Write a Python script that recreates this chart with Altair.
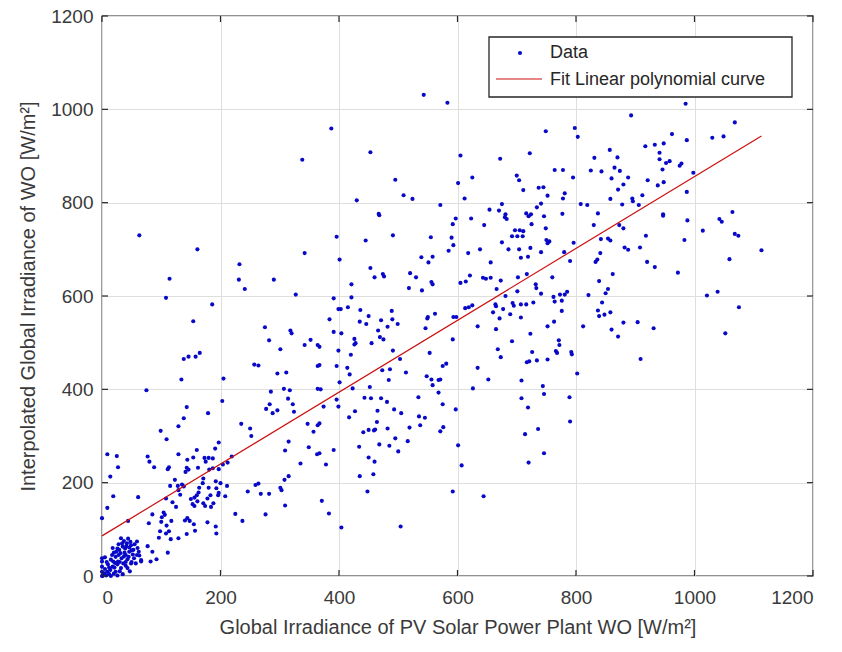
import altair as alt
import pandas as pd

# Axis tick positions (W/m²)
X_TICKS = [0, 200, 400, 600, 800, 1000, 1200]
Y_TICKS = [0, 200, 400, 600, 800, 1000, 1200]

# Linear polynomial fit: WO = slope * PV + intercept
FIT_SLOPE = 0.770
FIT_INTERCEPT = 86.0

# Measured pairs (PV plant irradiance, interpolated WO irradiance), grouped by range
night_cluster = [
    (32, 81), (37, 75), (42, 70), (35, 63), (26, 59), (49, 66), (59, 74), (53, 56),
    (46, 52), (40, 45), (31, 49), (23, 41), (33, 38), (43, 36), (54, 38), (49, 27),
    (36, 27), (26, 25), (18, 20), (14, 13), (23, 9), (32, 17), (12, 4), (7, 1),
    (1, 0), (0, 0), (0, 9), (0, 31), (0, 20), (0, 38), (66, 34), (59, 45), (19, 31),
    (27, 31), (15, 0), (26, 1), (35, 4), (43, 17), (29, 56), (39, 59), (46, 61),
    (52, 46), (21, 18), (9, 9), (4, 6), (40, 22), (57, 27), (63, 44), (20, 50),
    (28, 68), (44, 80), (10, 25), (5, 15), (15, 35), (38, 50), (50, 30), (30, 10),
    (60, 60), (17, 45), (24, 52), (34, 70), (41, 64), (48, 73), (55, 68), (37, 42),
    (45, 41), (30, 30), (22, 28), (12, 18), (8, 30), (28, 45), (50, 55), (62, 52),
    (18, 60), (40, 30), (47, 10), (20, 5), (5, 40),
]

low_range = [
    (138, 338), (129, 321), (99, 311), (109, 293), (235, 326), (250, 316), (252, 300),
    (197, 286), (191, 273), (129, 261), (160, 270), (144, 249), (154, 254), (162, 232),
    (173, 253), (180, 253), (187, 252), (175, 245), (219, 256), (212, 243), (204, 239),
    (197, 229), (187, 231), (181, 228), (77, 256), (80, 245), (88, 233), (111, 229),
    (113, 233), (141, 223), (143, 232), (146, 228), (9, 261), (25, 257), (27, 233),
    (14, 213), (128, 193), (135, 196), (138, 192), (115, 193), (123, 206), (171, 209),
    (170, 199), (164, 189), (163, 179), (160, 173), (156, 168), (150, 165), (161, 160),
    (153, 154), (156, 150), (180, 189), (183, 173), (178, 166), (171, 156), (174, 150),
    (184, 148), (196, 173), (197, 178), (193, 188), (188, 156), (211, 193), (208, 171),
    (192, 203), (200, 199), (19, 171), (9, 146), (61, 169), (0, 124), (125, 148),
    (104, 136), (85, 132), (79, 113), (101, 126), (106, 131), (44, 118), (100, 116),
    (117, 118), (109, 108), (113, 96), (98, 96), (108, 91), (96, 82), (116, 79),
    (129, 81), (143, 90), (157, 97), (178, 115), (192, 106), (193, 91), (144, 124),
    (140, 119), (148, 118), (155, 111), (129, 184), (132, 174), (119, 158), (108, 166),
    (225, 133), (237, 118), (276, 132), (268, 176), (282, 176), (259, 195), (264, 198),
    (246, 181), (301, 189), (303, 184), (309, 151), (315, 214), (308, 206), (349, 276),
    (363, 261), (335, 241), (315, 288), (309, 269), (347, 326), (357, 309), (364, 323),
    (111, 50), (77, 64), (85, 52), (92, 36), (82, 31), (66, 31),
    (63, 730), (161, 700), (342, 692), (232, 668), (114, 637), (231, 635), (290, 635),
    (241, 615), (108, 596), (327, 603), (186, 582), (154, 546), (275, 533), (318, 526),
    (320, 520), (282, 505), (301, 486), (342, 495), (352, 506), (364, 495), (138, 465),
    (146, 470), (158, 470), (165, 478), (257, 453), (264, 451), (296, 434), (311, 436),
    (364, 450), (134, 421), (205, 423), (75, 398), (285, 395), (307, 401), (317, 398),
    (364, 401), (203, 375), (314, 380), (322, 368), (283, 368), (277, 358), (296, 355),
    (288, 349), (143, 362), (179, 349), (324, 352), (338, 892),
]

mid_range = [
    (468, 773), (597, 766), (592, 754), (623, 766), (645, 752), (680, 769), (683, 765),
    (720, 771), (725, 754), (396, 727), (445, 719), (491, 730), (555, 726), (590, 725),
    (593, 709), (585, 697), (675, 715), (697, 741), (705, 741), (711, 739), (692, 728),
    (701, 728), (710, 728), (638, 700), (686, 700), (704, 700), (723, 703), (618, 692),
    (539, 683), (551, 672), (558, 684), (401, 678), (656, 672), (707, 682), (719, 684),
    (453, 660), (460, 640), (474, 647), (476, 642), (520, 649), (530, 640), (518, 617),
    (540, 612), (556, 630), (558, 625), (421, 625), (605, 628), (614, 631), (621, 644),
    (643, 639), (648, 637), (656, 639), (673, 633), (666, 615), (702, 640), (717, 647),
    (732, 625), (733, 617), (701, 610), (681, 600), (391, 595), (421, 597), (399, 572),
    (403, 572), (415, 576), (436, 570), (489, 568), (613, 574), (619, 576), (625, 580),
    (664, 582), (665, 578), (693, 585), (695, 579), (707, 582), (716, 582), (728, 586),
    (660, 565), (677, 572), (689, 561), (707, 554), (450, 557), (446, 540), (435, 545),
    (471, 548), (482, 534), (490, 550), (499, 540), (562, 562), (549, 552), (550, 555),
    (593, 555), (598, 555), (546, 531), (634, 535), (671, 552), (665, 529), (384, 550),
    (391, 523), (404, 520), (466, 526), (469, 512), (475, 507), (426, 508), (428, 499),
    (426, 496), (455, 499), (723, 519), (692, 503), (592, 507), (399, 483), (420, 474),
    (491, 483), (503, 465), (553, 478), (668, 486), (673, 469), (726, 480), (721, 460),
    (717, 458), (734, 462), (396, 450), (414, 446), (418, 432), (473, 441), (486, 443),
    (513, 436), (575, 450), (581, 455), (634, 446), (548, 428), (556, 421), (568, 420),
    (571, 421), (484, 420), (652, 421), (708, 419), (401, 415), (369, 400), (452, 405),
    (423, 402), (558, 409), (568, 393), (626, 402), (443, 382), (454, 381), (471, 381),
    (481, 373), (493, 357), (505, 349), (534, 383), (465, 354), (427, 353), (575, 368),
    (597, 357), (396, 378), (399, 363), (374, 363), (708, 381), (719, 361), (367, 491),
    (367, 452),
    (417, 340), (464, 330), (441, 308), (450, 313), (459, 312), (461, 314), (482, 316),
    (495, 295), (485, 279), (500, 267), (468, 282), (519, 318), (535, 342), (537, 323),
    (545, 339), (516, 289), (571, 310), (576, 319), (434, 277), (450, 254), (460, 245),
    (435, 214), (458, 218), (448, 181), (391, 270), (378, 239), (371, 161), (383, 134),
    (404, 104), (504, 106), (601, 280), (607, 237), (592, 181), (644, 171), (714, 304),
    (720, 243), (736, 315), (367, 327), (367, 263),
    (543, 1031), (583, 1014), (387, 959), (453, 908), (605, 901), (672, 894), (722, 906),
    (495, 849), (601, 842), (625, 854), (700, 858), (704, 848), (711, 827), (737, 832),
    (509, 816), (524, 808), (430, 805), (612, 809), (571, 795), (675, 797), (654, 785),
    (670, 783), (467, 776), (681, 775), (716, 777), (724, 775), (734, 790),
]

high_range = [
    (985, 1012), (893, 987), (1068, 972), (749, 953), (798, 960), (803, 941), (962, 947),
    (987, 934), (1030, 939), (1049, 942), (917, 921), (933, 924), (948, 927), (857, 913),
    (941, 907), (831, 896), (870, 897), (941, 893), (952, 885), (958, 889), (975, 879),
    (978, 884), (764, 870), (778, 870), (825, 869), (843, 867), (865, 875), (874, 868),
    (946, 871), (998, 864), (795, 854), (860, 852), (888, 854), (921, 848), (948, 844),
    (938, 837), (745, 833), (880, 839), (871, 828), (987, 823), (752, 815), (781, 820),
    (778, 809), (858, 808), (895, 809), (896, 803), (912, 816), (808, 797), (819, 795),
    (878, 796), (906, 795), (741, 798), (837, 777), (777, 776), (947, 775), (1064, 780),
    (1113, 698),
    (746, 771), (988, 762), (1042, 765), (1046, 759), (947, 772), (749, 745), (830, 752),
    (880, 745), (873, 752), (1014, 740), (1068, 733), (1074, 729), (750, 720), (755, 717),
    (752, 713), (741, 694), (796, 714), (780, 694), (790, 675), (842, 722), (854, 723),
    (858, 719), (841, 692), (836, 678), (833, 673), (918, 729), (882, 704), (888, 699),
    (908, 704), (983, 720), (920, 673), (933, 662), (972, 650), (1059, 679), (760, 640),
    (862, 647), (839, 632), (854, 615), (850, 606), (741, 605), (762, 598), (764, 588),
    (773, 603), (776, 590), (781, 603), (785, 609), (821, 602), (1021, 601), (1039, 609),
    (1075, 576), (844, 586), (837, 569), (839, 557), (848, 560), (858, 565), (776, 568),
    (763, 545), (752, 535), (812, 535), (880, 543), (904, 544), (931, 531), (860, 528),
    (871, 513), (1052, 520), (771, 505), (772, 495), (766, 482), (768, 478), (792, 480),
    (793, 475), (752, 464), (909, 465), (802, 434), (744, 407), (746, 390), (789, 383),
    (790, 331), (746, 263),
]

X_TITLE = "Global Irradiance of PV Solar Power Plant WO [W/m²]"
Y_TITLE = "Interpolated Global Irradiance of WO [W/m²]"
LEGEND_LABELS = ["Data", "Fit Linear polynomial curve"]

FONT = "Liberation Sans"
INK = "#262626"
TEXT = "#3a3a3a"
DOT_BLUE = "#0808c8"
FIT_RED = "#cc1010"

W, H = 711, 560

pairs = night_cluster + low_range + mid_range + high_range
points = pd.DataFrame(pairs, columns=["pv", "wo"])

x_lo, x_hi = points["pv"].min(), points["pv"].max()
fit = pd.DataFrame({"pv": [x_lo, x_hi]})
fit["wo"] = FIT_SLOPE * fit["pv"] + FIT_INTERCEPT

x_scale = alt.Scale(domain=[0, 1200], nice=False, zero=False)
y_scale = alt.Scale(domain=[0, 1200], nice=False, zero=False)

x_axis = alt.Axis(
    values=X_TICKS, format="d", title=X_TITLE, grid=True, ticks=False, domain=False,
    labelFontSize=19, labelColor=TEXT, labelFont=FONT, labelPadding=12,
    titleFontSize=20, titleColor=TEXT, titleFont=FONT, titleFontWeight="normal",
    titlePadding=10,
)
y_axis = alt.Axis(
    values=Y_TICKS, format="d", title=Y_TITLE, grid=True, ticks=False, domain=False,
    labelFontSize=19, labelColor=TEXT, labelFont=FONT, labelPadding=9,
    titleFontSize=20, titleColor=TEXT, titleFont=FONT, titleFontWeight="normal",
    titlePadding=12,
)

scatter = alt.Chart(points).mark_circle(size=17, color=DOT_BLUE, opacity=1).encode(
    x=alt.X("pv:Q", scale=x_scale, axis=x_axis),
    y=alt.Y("wo:Q", scale=y_scale, axis=y_axis),
)

fit_line = alt.Chart(fit).mark_line(color=FIT_RED, strokeWidth=1.2).encode(
    x=alt.X("pv:Q", scale=x_scale),
    y=alt.Y("wo:Q", scale=y_scale),
)

# Inward tick marks on all four sides of the box
xt = pd.DataFrame({"pv": X_TICKS})
yt = pd.DataFrame({"wo": Y_TICKS})
TL = 6
tick_layers = [
    alt.Chart(xt).mark_rule(color=INK, strokeWidth=1.2).encode(
        x=alt.X("pv:Q", scale=x_scale), y=alt.value(H), y2=alt.value(H - TL)),
    alt.Chart(xt).mark_rule(color=INK, strokeWidth=1.2).encode(
        x=alt.X("pv:Q", scale=x_scale), y=alt.value(0), y2=alt.value(TL)),
    alt.Chart(yt).mark_rule(color=INK, strokeWidth=1.2).encode(
        y=alt.Y("wo:Q", scale=y_scale), x=alt.value(0), x2=alt.value(TL)),
    alt.Chart(yt).mark_rule(color=INK, strokeWidth=1.2).encode(
        y=alt.Y("wo:Q", scale=y_scale), x=alt.value(W), x2=alt.value(W - TL)),
]

# Legend box in the upper right of the axes
legend_df = pd.DataFrame({"label": LEGEND_LABELS})
legend_box = alt.Chart(legend_df.head(1)).mark_rect(
    fill="white", stroke=INK, strokeWidth=1.3
).encode(x=alt.value(387), x2=alt.value(690), y=alt.value(21), y2=alt.value(81))
legend_dot = alt.Chart(legend_df.head(1)).mark_circle(
    size=17, color=DOT_BLUE, opacity=1
).encode(x=alt.value(418), y=alt.value(37))
legend_rule = alt.Chart(legend_df.head(1)).mark_rule(
    color=FIT_RED, strokeWidth=1.2
).encode(x=alt.value(394), x2=alt.value(440), y=alt.value(63))
legend_text1 = alt.Chart(legend_df.iloc[[0]]).mark_text(
    align="left", baseline="middle", font=FONT, fontSize=18, color=INK
).encode(x=alt.value(448), y=alt.value(37), text="label:N")
legend_text2 = alt.Chart(legend_df.iloc[[1]]).mark_text(
    align="left", baseline="middle", font=FONT, fontSize=18, color=INK
).encode(x=alt.value(448), y=alt.value(64), text="label:N")

chart = alt.layer(
    scatter, fit_line, *tick_layers,
    legend_box, legend_dot, legend_rule, legend_text1, legend_text2,
).properties(
    width=W, height=H,
    autosize=alt.AutoSizeParams(type="none"),
    padding={"left": 102, "top": 16, "right": 29, "bottom": 76},
    background="white",
).configure_view(
    stroke=INK, strokeWidth=1.3,
).configure_axis(
    gridColor="#dedede", gridWidth=1,
)

chart.save("out.html", embed_options={"renderer": "svg", "actions": False})
